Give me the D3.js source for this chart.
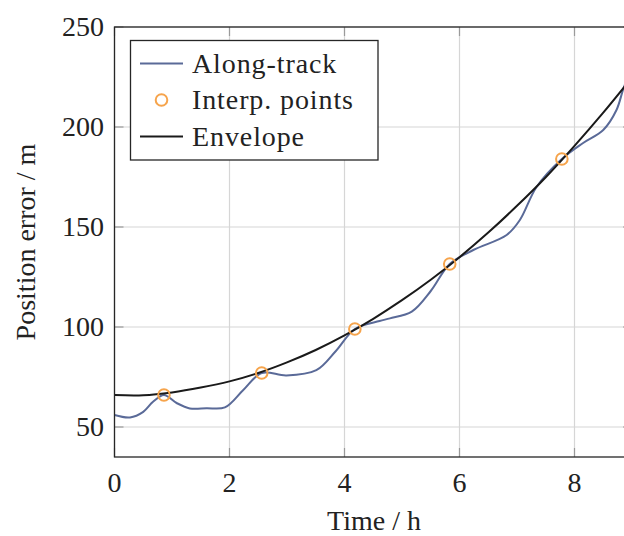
<!DOCTYPE html>
<html>
<head>
<meta charset="utf-8">
<script src="https://cdn.jsdelivr.net/npm/d3@7"></script>
<style>
  body { margin: 0; background: #fff; }
  svg { display: block; font-family: "Liberation Serif", "DejaVu Serif", serif; }
</style>
</head>
<body>
<svg id="chart" width="624" height="536"></svg>
<script>
// along-track error
var trackT = [0, 0.27, 0.5, 0.67, 0.86, 1.08, 1.31, 1.6, 1.92, 2.24, 2.56, 2.99, 3.51, 3.85, 4.18, 4.61, 4.79, 5.17, 5.5, 5.83, 6.24, 6.82, 7.05, 7.34, 7.78, 8.15, 8.5, 8.73, 8.86, 9];
var trackY = [56, 54.8, 57.6, 62.6, 66, 62, 59.3, 59.4, 59.8, 68.5, 77, 75.8, 78.4, 88, 99, 103, 104.3, 107.7, 118, 131.5, 138.5, 146, 153.5, 170, 184, 192, 198.5, 208.5, 220, 229];

// interpolation points
var ptT = [0.86, 2.56, 4.18, 5.83, 7.78];
var ptY = [66, 77, 99, 131.5, 184];

// envelope
var envT = [0, 0.5, 1, 1.5, 2, 2.5, 3, 3.5, 4, 4.5, 5, 5.5, 6, 6.5, 7, 7.5, 8, 8.5, 9];
var envY = [66, 65.9, 67.3, 69.7, 72.8, 77, 82.3, 88.5, 95.8, 104.1, 113.4, 123.6, 134.9, 147.2, 160.6, 174.9, 190.6, 207.2, 224.8];

var xTicks = [0, 2, 4, 6, 8];
var yTicks = [50, 100, 150, 200, 250];

var svg = d3.select("#chart");
var mLeft = 114.5, mTop = 27, W = 517.5, H = 430;

var x = d3.scaleLinear().domain([0, 9]).range([mLeft, mLeft + W]);
var y = d3.scaleLinear().domain([35, 250]).range([mTop + H, mTop]);

// grid
svg.append("g").selectAll("line").data(xTicks).enter().append("line")
      .attr("x1", d => x(d)).attr("x2", d => x(d))
      .attr("y1", mTop).attr("y2", mTop + H)
      .style("stroke", "#d6d6d6").style("stroke-width", "1.2px");
svg.append("g").selectAll("line").data(yTicks).enter().append("line")
      .attr("y1", d => y(d)).attr("y2", d => y(d))
      .attr("x1", mLeft).attr("x2", mLeft + W)
      .style("stroke", "#d6d6d6").style("stroke-width", "1.2px");

// inward tick marks on all four sides
var tk = 9;
var tg = svg.append("g").style("stroke", "#9a9a9a").style("stroke-width", "1.2px");
xTicks.forEach(function(d) {
  tg.append("line").attr("x1", x(d)).attr("x2", x(d)).attr("y1", mTop + H).attr("y2", mTop + H - tk);
  tg.append("line").attr("x1", x(d)).attr("x2", x(d)).attr("y1", mTop).attr("y2", mTop + tk);
});
yTicks.forEach(function(d) {
  tg.append("line").attr("y1", y(d)).attr("y2", y(d)).attr("x1", mLeft).attr("x2", mLeft + tk);
  tg.append("line").attr("y1", y(d)).attr("y2", y(d)).attr("x1", mLeft + W).attr("x2", mLeft + W - tk);
});

// data
svg.append("clipPath").attr("id", "clip").append("rect")
      .attr("x", mLeft).attr("y", mTop).attr("width", W).attr("height", H);
var plot = svg.append("g").attr("clip-path", "url(#clip)");

var line = d3.line().curve(d3.curveCatmullRom.alpha(0.5)).x(d => x(d[0])).y(d => y(d[1]));

plot.append("path")
      .datum(trackT.map((t, i) => [t, trackY[i]]))
      .attr("d", line)
      .style("fill", "none").style("stroke", "#5a6a98").style("stroke-width", "2px");

plot.append("path")
      .datum(envT.map((t, i) => [t, envY[i]]))
      .attr("d", line)
      .style("fill", "none").style("stroke", "#1a1a1a").style("stroke-width", "2px");

plot.selectAll("circle").data(ptT).enter().append("circle")
      .attr("cx", d => x(d)).attr("cy", (d, i) => y(ptY[i])).attr("r", 5.8)
      .style("fill", "none").style("stroke", "#f6a44c").style("stroke-width", "2px");

// frame
svg.append("rect").attr("x", mLeft).attr("y", mTop).attr("width", W).attr("height", H)
      .style("fill", "none").style("stroke", "#262626").style("stroke-width", "1.3px");

// tick labels
var fs = "28px";
svg.append("g").selectAll("text").data(xTicks).enter().append("text")
      .attr("x", d => x(d)).attr("y", 492)
      .attr("text-anchor", "middle").style("font-size", fs).style("fill", "#222")
      .text(d => d);
svg.append("g").selectAll("text").data(yTicks).enter().append("text")
      .attr("x", 104).attr("y", d => y(d) + 9)
      .attr("text-anchor", "end").style("font-size", fs).style("fill", "#222")
      .text(d => d);

// axis titles
svg.append("text").attr("x", 374).attr("y", 530).attr("text-anchor", "middle")
      .style("font-size", fs).style("fill", "#222").text("Time / h");
svg.append("text").attr("transform", "translate(35," + (mTop + H / 2) + ") rotate(-90)")
      .attr("text-anchor", "middle").style("font-size", fs).style("fill", "#222")
      .text("Position error / m");

// legend
var lg = svg.append("g");
lg.append("rect").attr("x", 130.5).attr("y", 40.5).attr("width", 247.5).attr("height", 119.5)
      .style("fill", "#fff").style("stroke", "#262626").style("stroke-width", "1.3px");
var rows = [63.5, 100, 136.5];
lg.append("line").attr("x1", 140).attr("x2", 183).attr("y1", rows[0]).attr("y2", rows[0])
      .style("stroke", "#5a6a98").style("stroke-width", "2px");
lg.append("circle").attr("cx", 161.5).attr("cy", rows[1]).attr("r", 5.8)
      .style("fill", "none").style("stroke", "#f6a44c").style("stroke-width", "2px");
lg.append("line").attr("x1", 140).attr("x2", 183).attr("y1", rows[2]).attr("y2", rows[2])
      .style("stroke", "#1a1a1a").style("stroke-width", "2px");
["Along-track", "Interp. points", "Envelope"].forEach(function(s, i) {
  lg.append("text").attr("x", 192).attr("y", rows[i] + 9)
      .style("font-size", fs).style("letter-spacing", "0.9px").style("fill", "#222").text(s);
});
</script>
</body>
</html>
